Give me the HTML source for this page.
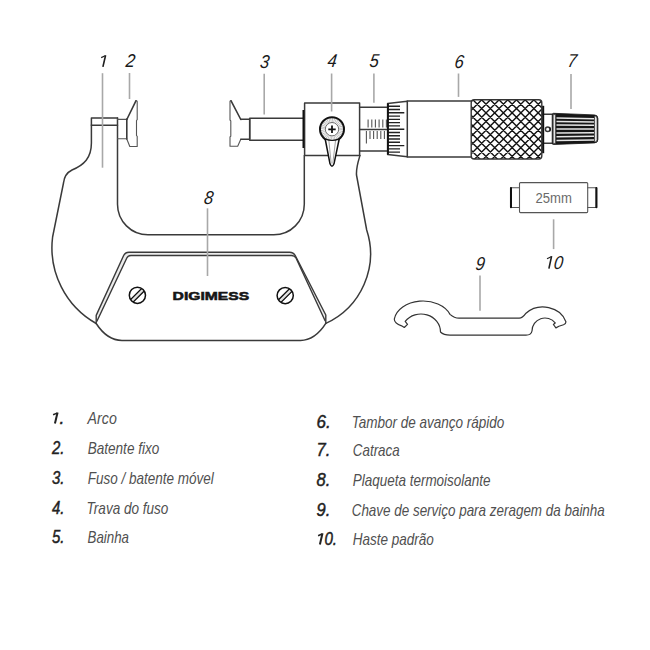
<!DOCTYPE html>
<html><head><meta charset="utf-8">
<style>
html,body{margin:0;padding:0;background:#fff;width:650px;height:650px;overflow:hidden}
svg{position:absolute;left:0;top:0}
text{font-family:"Liberation Sans",sans-serif}
.lab{font-style:italic;font-size:18.6px;fill:#1a1a1a}
.num{font-style:italic;font-size:17.5px;fill:#222;stroke:#222;stroke-width:0.45}
.itm{font-style:italic;font-size:17px;fill:#505050}
</style></head><body>
<svg width="650" height="650" viewBox="0 0 650 650">
<g fill="none" stroke="#3a3a3a" stroke-width="1.5" stroke-linejoin="round" stroke-linecap="round">
<!-- outer frame left -->
<path d="M91.4,125 V143 C91.4,158 84,165 72,170 C66,173 64,178 63.5,183 L52.6,237 A87.1,87.1 0 0 0 96.2,323.5"/>
<!-- outer frame right -->
<path d="M360,155.4 C358,162 356,168 356.5,175 L366.7,230 A76.6,76.6 0 0 1 325.8,323.4"/>
<!-- bottom -->
<path d="M96.2,323.5 C103,334 111,340.4 122,340.4 H300.5 C311,340.4 319,334 325.8,323.4"/>
<!-- nameplate band fill -->
<path d="M96.2,315.4 L123.3,256.2 Q125,252.3 129,252.3 H289.5 Q293.5,252.3 295.5,256 L325.8,315 L325.1,320.8 L296,258 Q294.5,255.5 291.5,255.5 H131 Q128,255.5 126.8,258 L96.9,321.2 Z" fill="#ececec" stroke="none"/>
<!-- nameplate outer -->
<path d="M96.2,323.5 V315.4 L123.3,256.2 Q125,252.3 129,252.3 H289.5 Q293.5,252.3 295.5,256 L325.8,315 V323.4" stroke-width="1.4"/>
<!-- nameplate inner -->
<path d="M96.9,321.2 L126.8,258 Q128,255.5 131,255.5 H291.5 Q294.5,255.5 296,258 L325.1,320.8" stroke-width="1.4"/>
<!-- inner frame -->
<path d="M117.5,118 V204.3 A30.5,30.5 0 0 0 148,234.8 H273.8 A30.5,30.5 0 0 0 304.3,204.3 V155.4"/>
<!-- anvil cap -->
<path d="M117.5,125.2 H91.4 V118.1 H117.5"/>
<!-- fixed anvil -->
<path d="M117.5,119.4 H126.8 M117.5,138.7 H126.8" stroke="#555" stroke-width="1.1"/><path d="M126.8,119 V139.1" stroke-width="1.6"/>
<path d="M135.5,101 Q136.5,100 137.2,101.5 V119.7 L136.5,120.5 V135.5 L137.2,136.3 V146.5 H129.8 L126.8,139" stroke="#555" stroke-width="1.1"/><path d="M126.8,119.5 L135.8,101.2" stroke-width="1.6"/>
<!-- spindle face -->
<path d="M231.5,101 Q230.5,100 230,101.5 V120 L230.8,120.8 V136.2 L230,137 V146.2 H237.7 L240.8,139.2" stroke="#555" stroke-width="1.1"/><path d="M240.8,119.5 L231.2,101.2" stroke-width="1.6"/>
<path d="M240.8,119.2 H249.7 V139.2 H240.8"/>
<path d="M249.7,118.2 H303 M249.7,140.3 H303 M249.7,118.2 V140.3"/>
<!-- frame block -->
<path d="M304.6,155.4 V103 H359.6 V155.4 H304.6"/>
<!-- sleeve -->
<path d="M359.6,107.2 H387.6 M359.6,150.9 H387.6 M359.6,129.4 H387.6"/>
<!-- thimble bevel -->
<path d="M387.6,103.5 L407.3,101.3 V156.8 L387.6,154.6 Z"/>
<!-- thimble -->
<path d="M407.3,101.1 H471.2 M407.3,156.9 H471.2"/>
<!-- neck & ratchet -->
<path d="M543,114.2 H552.2 M543,143.2 H552.2"/>
<circle cx="547.7" cy="129.2" r="2.3"/><path d="M549.9,127.6 Q551,129.2 549.9,130.8" stroke="#111" stroke-width="1.2"/>


<!-- gauge -->
<rect x="519.5" y="182.6" width="68.2" height="30" rx="1" stroke="#555" stroke-width="1.1"/>
<path d="M519.5,187.7 H510.5 V207.5 H519.5 M587.7,187.7 H596.8 V207.5 H587.7" stroke="#555" stroke-width="1.1"/>
<path d="M511,188 V207.3 M596.3,188 V207.3" stroke="#111" stroke-width="2"/>
<!-- wrench -->
<path d="M401.6,325.8 C397.5,324.6 394.28,322.5 394.28,319.1 A29,21 0 0 1 450,314.34 C453,317 455,318.2 459,318.2 H519.2 C522,318.2 524,316 526,313.2 A24,21 0 0 1 565.9,321.7 C566,323.2 565,324.2 563.5,324.8 L558.9,326.3 L555.9,327.9 L553.4,324.5 L555.2,322.94 A13,13 0 0 0 532,331 C531.5,333.5 529.5,335.1 526,335.1 H450 C446,335.1 442.5,334 440.5,332 A19.5,18 0 0 0 405.2,321.45 L407.5,324.4 L404.3,327.5 Z" stroke="#333" stroke-width="1.2"/>
</g>

<defs>
<clipPath id="kc"><rect x="471.2" y="99.7" width="70.6" height="59.3" rx="3"/></clipPath>
<clipPath id="bv"><path d="M387.6,103.5 L407.3,101.3 V156.8 L387.6,154.6 Z"/></clipPath>
</defs>
<!-- knurl -->
<g clip-path="url(#kc)"><path d="M400.80,201.70 L613.00,413.90 M400.80,193.00 L613.00,405.20 M400.80,184.30 L613.00,396.50 M400.80,175.60 L613.00,387.80 M400.80,166.90 L613.00,379.10 M400.80,158.20 L613.00,370.40 M400.80,149.50 L613.00,361.70 M400.80,140.80 L613.00,353.00 M400.80,132.10 L613.00,344.30 M400.80,123.40 L613.00,335.60 M400.80,114.70 L613.00,326.90 M400.80,106.00 L613.00,318.20 M400.80,97.30 L613.00,309.50 M400.80,88.60 L613.00,300.80 M400.80,79.90 L613.00,292.10 M400.80,71.20 L613.00,283.40 M400.80,62.50 L613.00,274.70 M400.80,53.80 L613.00,266.00 M400.80,45.10 L613.00,257.30 M400.80,36.40 L613.00,248.60 M400.80,27.70 L613.00,239.90 M400.80,19.00 L613.00,231.20 M400.80,10.30 L613.00,222.50 M400.80,1.60 L613.00,213.80 M400.80,-7.10 L613.00,205.10 M400.80,-15.80 L613.00,196.40 M400.80,-24.50 L613.00,187.70 M400.80,-33.20 L613.00,179.00 M400.80,-41.90 L613.00,170.30 M400.80,-50.60 L613.00,161.60 M400.80,-59.30 L613.00,152.90 M400.80,-68.00 L613.00,144.20 M400.80,-76.70 L613.00,135.50 M400.80,-85.40 L613.00,126.80 M400.80,-94.10 L613.00,118.10 M400.80,-102.80 L613.00,109.40 M400.80,-111.50 L613.00,100.70 M400.80,-120.20 L613.00,92.00 M400.80,-128.90 L613.00,83.30 M400.80,-137.60 L613.00,74.60 M400.80,6.70 L613.00,-205.50 M400.80,15.40 L613.00,-196.80 M400.80,24.10 L613.00,-188.10 M400.80,32.80 L613.00,-179.40 M400.80,41.50 L613.00,-170.70 M400.80,50.20 L613.00,-162.00 M400.80,58.90 L613.00,-153.30 M400.80,67.60 L613.00,-144.60 M400.80,76.30 L613.00,-135.90 M400.80,85.00 L613.00,-127.20 M400.80,93.70 L613.00,-118.50 M400.80,102.40 L613.00,-109.80 M400.80,111.10 L613.00,-101.10 M400.80,119.80 L613.00,-92.40 M400.80,128.50 L613.00,-83.70 M400.80,137.20 L613.00,-75.00 M400.80,145.90 L613.00,-66.30 M400.80,154.60 L613.00,-57.60 M400.80,163.30 L613.00,-48.90 M400.80,172.00 L613.00,-40.20 M400.80,180.70 L613.00,-31.50 M400.80,189.40 L613.00,-22.80 M400.80,198.10 L613.00,-14.10 M400.80,206.80 L613.00,-5.40 M400.80,215.50 L613.00,3.30 M400.80,224.20 L613.00,12.00 M400.80,232.90 L613.00,20.70 M400.80,241.60 L613.00,29.40 M400.80,250.30 L613.00,38.10 M400.80,259.00 L613.00,46.80 M400.80,267.70 L613.00,55.50 M400.80,276.40 L613.00,64.20 M400.80,285.10 L613.00,72.90 M400.80,293.80 L613.00,81.60 M400.80,302.50 L613.00,90.30 M400.80,311.20 L613.00,99.00 M400.80,319.90 L613.00,107.70 M400.80,328.60 L613.00,116.40 M400.80,337.30 L613.00,125.10 M400.80,346.00 L613.00,133.80" stroke="#111" stroke-width="1.4" fill="none"/></g>
<rect x="471.2" y="99.7" width="70.6" height="59.3" rx="3" fill="none" stroke="#333" stroke-width="1.4"/>
<path d="M543.2,105.8 V153.2" stroke="#111" stroke-width="2"/>
<!-- thimble graduations -->
<g clip-path="url(#bv)"><path d="M388,106.24 H400 M388,109.52 H400 M388,112.80 H404.3 M388,116.08 H400 M388,119.36 H400 M388,122.64 H400 M388,125.92 H400 M388,129.20 H404.3 M388,132.48 H400 M388,135.76 H400 M388,139.04 H400 M388,142.32 H400 M388,145.60 H404.3 M388,148.88 H400 M388,152.16 H400" stroke="#222" stroke-width="1.4" fill="none"/></g>
<path d="M388,103.5 V154.6" stroke="#111" stroke-width="1.8"/>
<!-- sleeve ticks -->
<path d="M368.1,119.5 V127.4 M371.8,119.5 V127.4 M375.4,119.5 V127.4 M379.1,119.5 V127.4 M382.8,119.5 V127.4 M386.4,119.5 V127.4 M366.4,131.1 V143.6 M370,131.1 V139 M373.6,131.1 V139 M377.2,131.1 V139 M380.8,131.1 V139 M384.4,131.1 V139" stroke="#555" stroke-width="1.1"/>
<!-- ratchet -->
<path d="M553.5,113.3 L594.5,114.9 Q597.9,115.1 597.9,118.5 V139.5 Q597.9,142.8 594.5,142.9 L553.5,144.5 Q552.2,144.5 552.2,143 V115 Q552.2,113.3 553.5,113.3 Z" fill="#161616" stroke="#161616" stroke-width="0.8"/>
<path d="M556.5,118.1 L594,118.7 M556.5,121.6 L594,122 M556.5,125.1 L594,125.3 M556.5,128.9 L594,128.9 M556.5,132.9 L594,132.7 M556.5,136.7 L594,136.3 M556.5,140.5 L594,139.9" stroke="#e6e6e6" stroke-width="1.5"/>
<path d="M553.2,114.6 H555.4 V143.4 H553.2 Z" fill="#f4f4f4" stroke="#444" stroke-width="0.7"/>
<path d="M594.6,116.2 H595.6 Q597,116.4 597,118.8 V139.4 Q597,141.7 595.6,141.8 H594.6 Z" fill="#f4f4f4" stroke="#444" stroke-width="0.7"/>
<!-- lock screw -->
<circle cx="332" cy="129.2" r="9.2" fill="none" stroke="#b8b8b8" stroke-width="4" stroke-dasharray="0.8 0.8"/>
<circle cx="332" cy="129.2" r="12" fill="none" stroke="#111" stroke-width="2"/>
<circle cx="332" cy="129.2" r="6.7" fill="#fff" stroke="#444" stroke-width="0.8"/>
<path d="M328.3,129.3 H335.7 M332,125.6 V133" stroke="#111" stroke-width="1.8"/>
<path d="M325.2,139 L330,163.8 Q332,168.6 334,163.8 L339.2,139" fill="#fff" stroke="#111" stroke-width="1.5"/>
<path d="M328.8,140 L331.2,163.5 M335.6,140 L332.8,163.5" stroke="#999" stroke-width="0.9"/>
<path d="M325.5,139.2 Q332,141.5 338.9,139.2" fill="none" stroke="#111" stroke-width="1.3"/>
<!-- thick black spindle edge -->
<path d="M303.4,110 V148" stroke="#111" stroke-width="1.8"/>
<!-- leader lines -->
<g stroke="#a8a8a8" stroke-width="1.6">
<path d="M102.5,73.2 V167.7"/>
<path d="M129.5,73 V99"/>
<path d="M264.2,73.8 V114.6"/>
<path d="M331.6,73.5 V111.5"/>
<path d="M373.9,73.5 V102.7"/>
<path d="M458.5,73.5 V96.9"/>
<path d="M571,74 V109"/>
<path d="M207.5,208.3 V276"/>
<path d="M480,275.4 V310.8"/>
<path d="M553.6,219.3 V249.1"/>
</g>
<!-- screws on nameplate -->
<defs>
<clipPath id="s1"><circle cx="137.4" cy="295.3" r="8"/></clipPath>
<clipPath id="s2"><circle cx="285.2" cy="295.6" r="8"/></clipPath>
</defs>
<g clip-path="url(#s1)"><rect x="125.4" y="293.5" width="24" height="3.6" fill="#e0e0e0" stroke="#111" stroke-width="1.3" transform="rotate(-45 137.4 295.3)"/></g>
<circle cx="137.4" cy="295.3" r="8.1" fill="none" stroke="#111" stroke-width="1.5"/>
<g clip-path="url(#s2)"><rect x="273.2" y="293.8" width="24" height="3.6" fill="#e0e0e0" stroke="#111" stroke-width="1.3" transform="rotate(-45 285.2 295.6)"/></g>
<circle cx="285.2" cy="295.6" r="8.1" fill="none" stroke="#111" stroke-width="1.5"/>
<text x="172.6" y="299.8" font-weight="bold" font-size="11.8" fill="#151515" stroke="#151515" stroke-width="0.55" textLength="76.6" lengthAdjust="spacingAndGlyphs">DIGIMESS</text>
<text x="535.5" y="202.9" font-size="14" fill="#6a6a6a" textLength="36.4" lengthAdjust="spacingAndGlyphs">25mm</text>
<!-- labels -->
<path d="M105.6,55.2 L102.9,66.9" fill="none" stroke="#1e1e1e" stroke-width="1.6"/><path d="M105.2,55.8 L101.2,57.6" fill="none" stroke="#1e1e1e" stroke-width="1.2"/>
<text class="lab" x="125.2" y="67.3" transform="skewX(-7)" style="transform-origin:125.2px 67.3px" textLength="9.2" lengthAdjust="spacingAndGlyphs">2</text>
<text class="lab" x="259.4" y="67.6" transform="skewX(-7)" style="transform-origin:259.4px 67.6px" textLength="9.2" lengthAdjust="spacingAndGlyphs">3</text>
<text class="lab" x="326.9" y="67.3" transform="skewX(-7)" style="transform-origin:326.9px 67.3px" textLength="9.2" lengthAdjust="spacingAndGlyphs">4</text>
<text class="lab" x="368.9" y="67.3" transform="skewX(-7)" style="transform-origin:368.9px 67.3px" textLength="9.2" lengthAdjust="spacingAndGlyphs">5</text>
<text class="lab" x="453.9" y="68.0" transform="skewX(-7)" style="transform-origin:453.9px 68.0px" textLength="9.2" lengthAdjust="spacingAndGlyphs">6</text>
<text class="lab" x="566.9" y="67.0" transform="skewX(-7)" style="transform-origin:566.9px 67.0px" textLength="9.2" lengthAdjust="spacingAndGlyphs">7</text>
<text class="lab" x="203.4" y="203.6" transform="skewX(-7)" style="transform-origin:203.4px 203.6px" textLength="9.2" lengthAdjust="spacingAndGlyphs">8</text>
<text class="lab" x="474.9" y="270" transform="skewX(-7)" style="transform-origin:474.9px 270px" textLength="9.2" lengthAdjust="spacingAndGlyphs">9</text>
<path d="M551.6,256.2 L548.9,268.6" fill="none" stroke="#1e1e1e" stroke-width="1.6"/><path d="M551.2,256.8 L547,258.7" fill="none" stroke="#1e1e1e" stroke-width="1.2"/><text class="lab" x="553.3" y="268.8" transform="skewX(-7)" style="transform-origin:553.3px 268.8px" textLength="9.2" lengthAdjust="spacingAndGlyphs">0</text>
<!-- legend -->
<path d="M57.6,412.4 L54.9,423.5" fill="none" stroke="#222" stroke-width="2"/><path d="M57.1,413.1 L53.1,414.8" fill="none" stroke="#222" stroke-width="1.5"/><text class="num" x="59.6" y="423.8">.</text>
<text class="itm" x="87.6" y="423.8" textLength="29.2" lengthAdjust="spacingAndGlyphs">Arco</text>
<text class="num" x="52" y="453.9" textLength="12.5" lengthAdjust="spacingAndGlyphs">2.</text>
<text class="itm" x="87.7" y="453.9" textLength="71.6" lengthAdjust="spacingAndGlyphs">Batente fixo</text>
<text class="num" x="52" y="483.7" textLength="12.5" lengthAdjust="spacingAndGlyphs">3.</text>
<text class="itm" x="87.7" y="483.7" textLength="126.1" lengthAdjust="spacingAndGlyphs">Fuso / batente móvel</text>
<text class="num" x="52" y="513.8" textLength="12.5" lengthAdjust="spacingAndGlyphs">4.</text>
<text class="itm" x="86.6" y="513.8" textLength="81.8" lengthAdjust="spacingAndGlyphs">Trava do fuso</text>
<text class="num" x="52" y="543" textLength="12.5" lengthAdjust="spacingAndGlyphs">5.</text>
<text class="itm" x="87.6" y="543" textLength="41.4" lengthAdjust="spacingAndGlyphs">Bainha</text>
<text class="num" x="316.5" y="427.6" textLength="14.2" lengthAdjust="spacingAndGlyphs">6.</text>
<text class="itm" x="351.7" y="427.6" textLength="152.7" lengthAdjust="spacingAndGlyphs">Tambor de avanço rápido</text>
<text class="num" x="316.5" y="456.2" textLength="13.8" lengthAdjust="spacingAndGlyphs">7.</text>
<text class="itm" x="352.8" y="456.2" textLength="46.9" lengthAdjust="spacingAndGlyphs">Catraca</text>
<text class="num" x="316.5" y="485.5" textLength="13.8" lengthAdjust="spacingAndGlyphs">8.</text>
<text class="itm" x="352.7" y="485.5" textLength="137.9" lengthAdjust="spacingAndGlyphs">Plaqueta termoisolante</text>
<text class="num" x="316.5" y="516" textLength="13.8" lengthAdjust="spacingAndGlyphs">9.</text>
<text class="itm" x="351.7" y="516" textLength="253.1" lengthAdjust="spacingAndGlyphs">Chave de serviço para zeragem da bainha</text>
<path d="M322.5,533.3 L319.9,544.5" fill="none" stroke="#222" stroke-width="2"/><path d="M322,534 L318.1,535.8" fill="none" stroke="#222" stroke-width="1.5"/><text class="num" x="324.4" y="544.9" textLength="12.6" lengthAdjust="spacingAndGlyphs">0.</text>
<text class="itm" x="352.7" y="544.9" textLength="81.1" lengthAdjust="spacingAndGlyphs">Haste padrão</text>
</svg>
</body></html>
